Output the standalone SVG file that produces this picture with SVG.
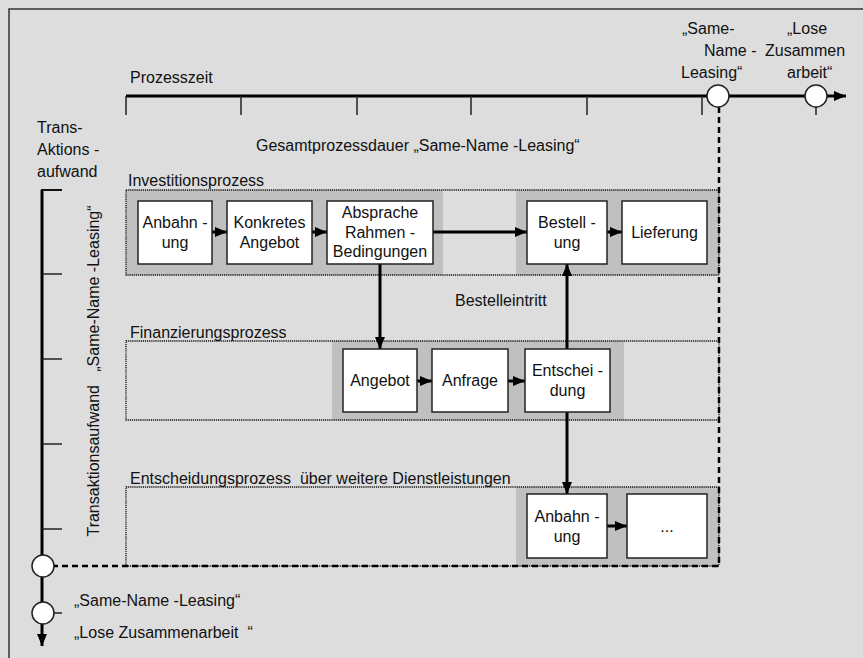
<svg xmlns="http://www.w3.org/2000/svg" width="863" height="658" viewBox="0 0 863 658">
<defs>
<marker id="ah" markerUnits="userSpaceOnUse" markerWidth="12" markerHeight="10" refX="12" refY="5" orient="auto"><path d="M0,0 L12,5 L0,10 z" fill="#000"/></marker>
<style>
text{font-family:"Liberation Sans",Arial,sans-serif;font-size:16px;fill:#111;}
.c{text-anchor:middle;}
.box{fill:#fff;stroke:#222;stroke-width:1.5;}
.shade{fill:#c0c0c0;}
.lane{fill:none;stroke:#111;stroke-width:1.3;stroke-dasharray:1.2 0.9;}
.conn{stroke:#000;stroke-width:3;fill:none;marker-end:url(#ah);}
.axis{stroke:#000;stroke-width:3;fill:none;}
.tick{stroke:#222;stroke-width:1.5;}
.dash{stroke:#000;stroke-width:2.5;stroke-dasharray:6 4;fill:none;}
.circ{fill:#fff;stroke:#222;stroke-width:1.5;}
</style>
</defs>
<rect x="0" y="0" width="863" height="658" fill="#dddddd"/>
<path d="M9,658 V9 H863" fill="none" stroke="#333" stroke-width="1.5"/>

<g id="timeaxis">
<text x="130" y="83">Prozesszeit</text>
<line class="axis" x1="126" y1="96" x2="846" y2="96" marker-end="url(#ah)"/>
<g class="tick">
<line x1="126" y1="96" x2="126" y2="115"/><line x1="241" y1="96" x2="241" y2="115"/>
<line x1="357" y1="96" x2="357" y2="115"/><line x1="471" y1="96" x2="471" y2="115"/>
<line x1="587" y1="96" x2="587" y2="115"/><line x1="702" y1="96" x2="702" y2="115"/>
<line x1="816" y1="100" x2="816" y2="115"/>
</g>
<text x="682" y="34">„Same-</text>
<text x="704" y="56">Name -</text>
<text x="681" y="78">Leasing“</text>
<text x="787" y="34">„Lose</text>
<text x="765" y="56">Zusammen</text>
<text x="787" y="78">arbeit“</text>
</g>

<g id="totals">
<text x="256" y="151">Gesamtprozessdauer „Same-Name -Leasing“</text>
</g>

<g id="lanes">
<g id="lane1">
<rect class="shade" x="126" y="190" width="317" height="85"/>
<rect class="shade" x="516" y="190" width="203" height="85"/>
<rect class="lane" x="126" y="190" width="593" height="85"/>
<text x="128" y="186">Investitionsprozess</text>
</g>
<g id="lane2">
<rect class="shade" x="332" y="341" width="292" height="79"/>
<rect class="lane" x="126" y="341" width="593" height="79"/>
<text x="130" y="338">Finanzierungsprozess</text>
</g>
<g id="lane3">
<rect class="shade" x="516" y="487" width="203" height="79"/>
<rect class="lane" x="126" y="487" width="593" height="79"/>
<text x="130" y="484" xml:space="preserve">Entscheidungsprozess  über weitere Dienstleistungen</text>
</g>
</g>

<g id="yaxis">
<text x="37" y="133">Trans-</text>
<text x="37" y="155">Aktions -</text>
<text x="37" y="177">aufwand</text>
<line class="axis" x1="42" y1="190" x2="42" y2="646" marker-end="url(#ah)"/>
<line x1="41" y1="190" x2="62" y2="190" stroke="#111" stroke-width="2"/>
<g class="tick">
<line x1="42" y1="274" x2="62" y2="274"/><line x1="42" y1="359" x2="62" y2="359"/>
<line x1="42" y1="444" x2="62" y2="444"/><line x1="42" y1="529" x2="62" y2="529"/>
<line x1="50" y1="613" x2="62" y2="613"/>
</g>
<text class="c" transform="translate(99,371) rotate(-90)" xml:space="preserve">Transaktionsaufwand   „Same-Name -Leasing“</text>
<text x="74" y="606">„Same-Name -Leasing“</text>
<text x="74" y="638" xml:space="preserve">„Lose Zusammenarbeit  “</text>
</g>

<g id="connectors">
<path class="dash" d="M719,107 V566 H54"/>
<line class="conn" x1="212" y1="232" x2="227" y2="232"/>
<line class="conn" x1="312" y1="232" x2="327" y2="232"/>
<line class="conn" x1="433" y1="232" x2="527" y2="232"/>
<line class="conn" x1="607" y1="232" x2="622" y2="232"/>
<line class="conn" x1="380" y1="264" x2="380" y2="349"/>
<line class="conn" x1="567" y1="349" x2="567" y2="264"/>
<line class="conn" x1="417" y1="381" x2="432" y2="381"/>
<line class="conn" x1="508" y1="381" x2="525" y2="381"/>
<line class="conn" x1="567" y1="412" x2="567" y2="494"/>
<line class="conn" x1="607" y1="526" x2="627" y2="526"/>
<text x="455" y="306">Bestelleintritt</text>
</g>

<g id="n-anbahnung1"><rect class="box" x="138" y="201" width="74" height="63"/><text class="c" x="175" y="228">Anbahn -</text><text class="c" x="175" y="248">ung</text></g>
<g id="n-konkretes"><rect class="box" x="227" y="201" width="85" height="63"/><text class="c" x="269.5" y="228">Konkretes</text><text class="c" x="269.5" y="248">Angebot</text></g>
<g id="n-absprache"><rect class="box" x="327" y="201" width="106" height="63"/><text class="c" x="380" y="218">Absprache</text><text class="c" x="380" y="238">Rahmen -</text><text class="c" x="380" y="257">Bedingungen</text></g>
<g id="n-bestellung"><rect class="box" x="527" y="201" width="80" height="63"/><text class="c" x="567" y="228">Bestell -</text><text class="c" x="567" y="248">ung</text></g>
<g id="n-lieferung"><rect class="box" x="622" y="201" width="85" height="63"/><text class="c" x="664.5" y="238">Lieferung</text></g>
<g id="n-angebot"><rect class="box" x="343" y="349" width="74" height="63"/><text class="c" x="380" y="386">Angebot</text></g>
<g id="n-anfrage"><rect class="box" x="432" y="349" width="76" height="63"/><text class="c" x="470" y="386">Anfrage</text></g>
<g id="n-entscheidung"><rect class="box" x="525" y="349" width="85" height="63"/><text class="c" x="567.5" y="376">Entschei -</text><text class="c" x="567.5" y="396">dung</text></g>
<g id="n-anbahnung2"><rect class="box" x="527" y="494" width="80" height="64"/><text class="c" x="567" y="522">Anbahn -</text><text class="c" x="567" y="542">ung</text></g>
<g id="n-more"><rect class="box" x="627" y="494" width="80" height="64"/><text class="c" x="667" y="532">...</text></g>

<g id="markers-circles">
<circle class="circ" cx="718" cy="96" r="11"/>
<circle class="circ" cx="816" cy="96" r="11"/>
<circle class="circ" cx="43" cy="566" r="11"/>
<circle class="circ" cx="43" cy="613" r="11"/>
</g>
</svg>
